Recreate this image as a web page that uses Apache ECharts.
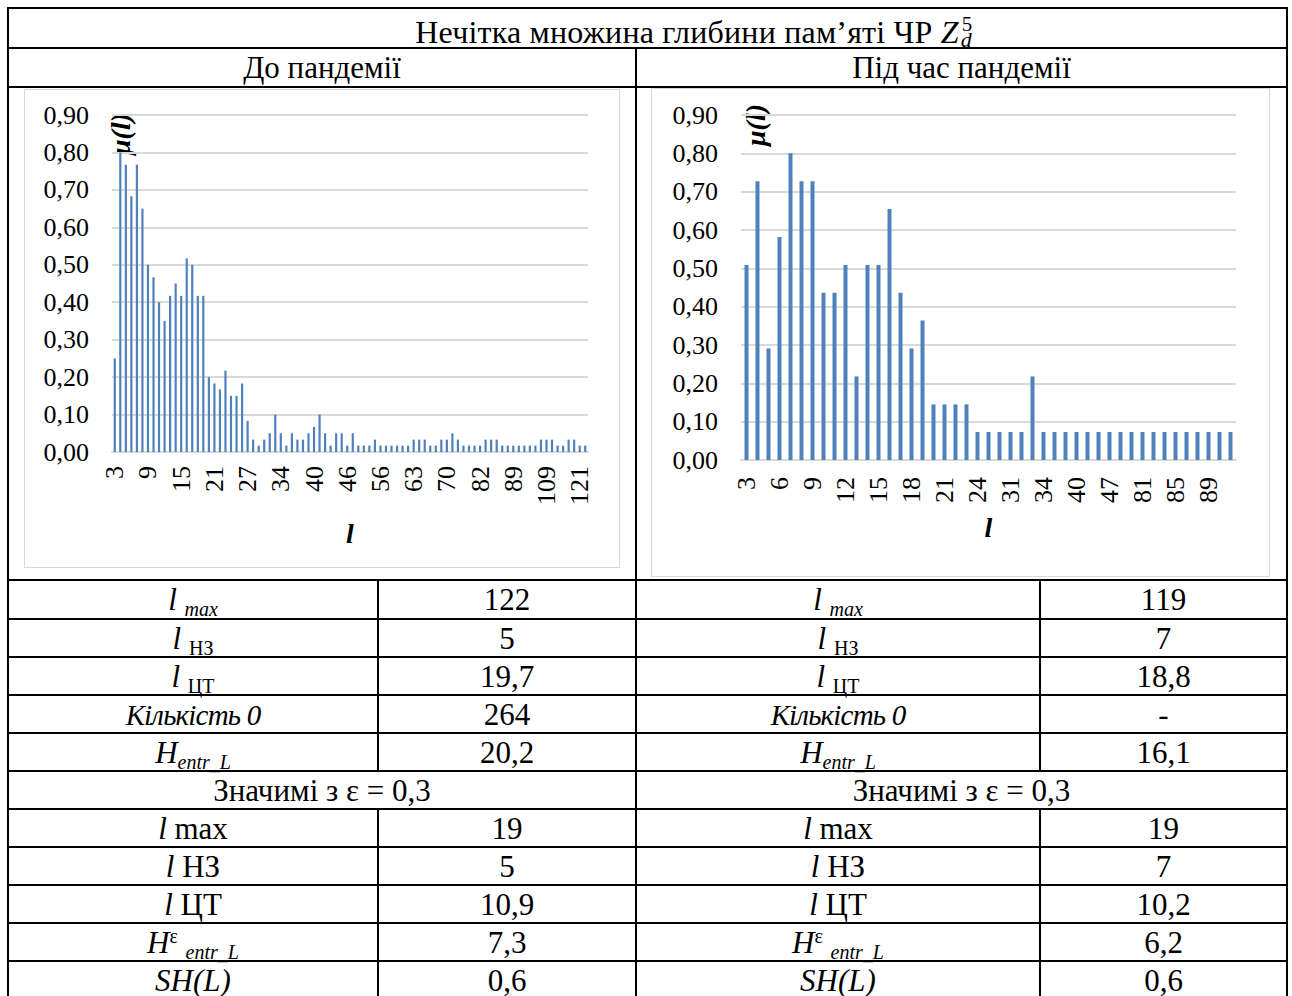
<!DOCTYPE html>
<html>
<head>
<meta charset="utf-8">
<script src="https://cdn.jsdelivr.net/npm/echarts/dist/echarts.min.js"></script>
<style>
  html, body { margin: 0; padding: 0; background: #fff; }
  #page { position: relative; width: 1292px; height: 996px; overflow: hidden;
          font-family: "Liberation Serif", "Times New Roman", serif; color: #000; }
  .hl { position: absolute; height: 2px; background: #000; }
  .vl { position: absolute; width: 2px; background: #000; }
  .cell { position: absolute; display: flex; align-items: center; justify-content: center;
          font-size: 31px; line-height: 1; white-space: nowrap; }
  .title { font-size: 32px; letter-spacing: 0.2px; }
  .narrow { font-size: 29px; letter-spacing: -0.8px; }
  .sub { font-size: 20px; position: relative; top: 6px; }
  .sup { font-size: 20px; position: relative; top: -10px; }
  .ss { display: inline-block; position: relative; width: 16px; height: 1em; }
  .ss .a { position: absolute; left: 3px; top: 3px; font-size: 21px; }
  .ss .b { position: absolute; left: 2px; top: 18px; font-size: 22px; font-style: italic; }
  .chart { position: absolute; border: 1px solid #d9d9d9; box-sizing: border-box; background: #fff; }
</style>
</head>
<body>
<div id="page">
  <div id="table"></div>
  <div id="chartBefore" class="chart" style="left:24px; top:89px; width:596px; height:479px;"></div>
  <div id="chartDuring" class="chart" style="left:651px; top:88px; width:619px; height:489px;"></div>
</div>
<script>
// Memory depth l and membership μ(l) before the pandemic
const beforeCats = [
  3,4,5,6,7,8,9,10,11,12,13,14,15,16,17,18,19,20,21,22,23,24,25,26,27,
  28,29,30,31,32,
  34,35,36,37,38,39,40,
  41,42,43,44,45,46,
  47,48,50,52,54,
  56,57,58,59,60,62,
  63,64,65,66,67,68,
  70,71,73,75,77,79,
  82,83,84,85,86,88,
  89,92,96,100,103,106,
  109,110,112,114,116,118,
  121,122
];
const beforeVals = [
  0.25,0.8,0.767,0.683,0.767,0.65,0.5,0.467,0.4,0.35,
  0.417,0.45,0.417,0.517,0.5,0.417,0.417,0.2,0.183,0.167,
  0.217,0.15,0.15,0.183,0.083,0.033,0.017,0.033,0.05,0.1,
  0.05,0.017,0.05,0.033,0.033,0.05,0.067,0.1,0.05,0.017,
  0.05,0.05,0.017,0.05,0.017,0.017,0.017,0.033,0.017,0.017,
  0.017,0.017,0.017,0.017,0.033,0.033,0.033,0.017,0.017,0.033,
  0.033,0.05,0.033,0.017,0.017,0.017,0.017,0.033,0.033,0.033,
  0.017,0.017,0.017,0.017,0.017,0.017,0.017,0.033,0.033,0.033,
  0.017,0.017,0.033,0.033,0.017,0.017
];

// Memory depth l and membership μ(l) during the pandemic
const duringCats = [
  3,4,5,6,7,8,9,10,11,12,13,14,15,16,17,18,19,20,21,22,23,24,
  26,28,31,32,33,34,36,38,40,43,45,47,55,70,81,82,84,85,86,88,89,100,119
];
const duringVals = [
  0.509,0.727,0.291,0.582,0.8,0.727,0.727,0.436,0.436,0.509,
  0.218,0.509,0.509,0.655,0.436,0.291,0.364,0.145,0.145,0.145,
  0.145,0.073,0.073,0.073,0.073,0.073,0.218,0.073,0.073,0.073,
  0.073,0.073,0.073,0.073,0.073,0.073,0.073,0.073,0.073,0.073,
  0.073,0.073,0.073,0.073,0.073
];

// Summary statistics for the two periods
const statLabels = [
  '<i>l</i>&nbsp;<span class="sub"><i>max</i></span>',
  '<i>l</i>&nbsp;<span class="sub">НЗ</span>',
  '<i>l</i>&nbsp;<span class="sub">ЦТ</span>',
  '<i class="narrow">Кількість 0</i>',
  '<i>H<span class="sub">entr_L</span></i>'
];
const statsBefore = ['122', '5', '19,7', '264', '20,2'];
const statsDuring = ['119', '7', '18,8', '-', '16,1'];
const sigHeader = 'Значимі з ε = 0,3';
const sigLabels = [
  '<i>l</i>&nbsp;max',
  '<i>l</i>&nbsp;НЗ',
  '<i>l</i>&nbsp;ЦТ',
  '<i>H</i><span class="sup">ε</span>&nbsp;<span class="sub"><i>entr_L</i></span>',
  '<i>SH(L)</i>'
];
const sigBefore = ['19', '5', '10,9', '7,3', '0,6'];
const sigDuring = ['19', '7', '10,2', '6,2', '0,6'];

const titleHtml = '<span class="title">Нечітка множина глибини пам’яті ЧР <i>Z</i><span class="ss"><span class="a">5</span><span class="b">d</span></span></span>';
const periodNames = ['До пандемії', 'Під час пандемії'];

// Table grid: column edges and row edges
const colX = [8, 378, 636, 1040, 1287];
const rowY = [8, 48, 87, 580, 619, 657, 695, 733, 771, 809, 847, 885, 923, 961, 999];

(function buildTable() {
  const host = document.getElementById('table');
  let html = '';
  const cell = (x0, x1, y0, y1, content, extra) =>
    '<div class="cell" style="left:' + x0 + 'px;width:' + (x1 - x0) + 'px;top:' + y0 + 'px;height:' + (y1 - y0) + 'px;' + (extra || '') + '"><span>' + content + '</span></div>';
  const hl = (x0, x1, y) => '<div class="hl" style="left:' + (x0 - 1) + 'px;width:' + (x1 - x0 + 2) + 'px;top:' + (y - 1) + 'px"></div>';
  const vl = (x, y0, y1) => '<div class="vl" style="left:' + (x - 1) + 'px;top:' + (y0 - 1) + 'px;height:' + (y1 - y0 + 2) + 'px"></div>';

  // horizontal rules
  rowY.forEach(y => { html += hl(colX[0], colX[4], y); });
  // vertical rules
  html += vl(colX[0], rowY[0], 1000);
  html += vl(colX[4], rowY[0], 1000);
  html += vl(colX[2], rowY[1], 1000);
  html += vl(colX[1], rowY[3], rowY[8]);
  html += vl(colX[3], rowY[3], rowY[8]);
  html += vl(colX[1], rowY[9], 1000);
  html += vl(colX[3], rowY[9], 1000);

  // title and period headers
  html += cell(403, 987, rowY[0], rowY[1], titleHtml, 'padding-top:2px;box-sizing:border-box;');
  html += cell(colX[0], colX[2], rowY[1], rowY[2], periodNames[0]);
  html += cell(colX[2], colX[4], rowY[1], rowY[2], periodNames[1]);

  for (let i = 0; i < statLabels.length; i++) {
    const y0 = rowY[3 + i], y1 = rowY[4 + i];
    html += cell(colX[0], colX[1], y0, y1, statLabels[i]);
    html += cell(colX[1], colX[2], y0, y1, statsBefore[i]);
    html += cell(colX[2], colX[3], y0, y1, statLabels[i]);
    html += cell(colX[3], colX[4], y0, y1, statsDuring[i]);
  }
  html += cell(colX[0], colX[2], rowY[8], rowY[9], sigHeader);
  html += cell(colX[2], colX[4], rowY[8], rowY[9], sigHeader);
  for (let i = 0; i < sigLabels.length; i++) {
    const y0 = rowY[9 + i], y1 = rowY[10 + i];
    html += cell(colX[0], colX[1], y0, y1, sigLabels[i]);
    html += cell(colX[1], colX[2], y0, y1, sigBefore[i]);
    html += cell(colX[2], colX[3], y0, y1, sigLabels[i]);
    html += cell(colX[3], colX[4], y0, y1, sigDuring[i]);
  }
  host.innerHTML = html;
})();

const SERIF = '"Liberation Serif", "Times New Roman", serif';
const BAR_COLOR = '#4f81bd';
const GRID_COLOR = '#d9d9d9';

function makeOption(cats, vals, cfg) {
  return {
    animation: false,
    grid: { left: cfg.left, right: cfg.right, top: cfg.top, bottom: cfg.bottom, containLabel: false },
    xAxis: {
      type: 'category',
      data: cats.map(String),
      name: 'l',
      nameLocation: 'middle',
      nameGap: cfg.nameGap,
      nameTextStyle: { fontFamily: SERIF, fontSize: 28, fontStyle: 'italic', fontWeight: 'bold', color: '#000' },
      axisLine: { lineStyle: { color: GRID_COLOR, width: 2 } },
      axisTick: { show: false },
      axisLabel: {
        interval: cfg.labelInterval, rotate: 90, margin: cfg.labelMargin,
        fontFamily: SERIF, fontSize: 26, color: '#000'
      }
    },
    yAxis: {
      type: 'value', min: 0, max: 0.9, interval: 0.1,
      axisLine: { show: false }, axisTick: { show: false },
      splitLine: { lineStyle: { color: GRID_COLOR, width: 2 } },
      axisLabel: {
        margin: 23, fontFamily: SERIF, fontSize: 26, color: '#000',
        formatter: v => v.toFixed(2).replace('.', ',')
      }
    },
    graphic: [{
      type: 'text', x: cfg.muX, y: cfg.muY, rotation: Math.PI / 2,
      style: {
        text: 'μ(l)', font: 'italic bold 28px ' + SERIF, fill: '#000',
        textAlign: 'center', textVerticalAlign: 'middle'
      }
    }],
    series: [{
      type: 'bar', data: vals, barWidth: cfg.barWidth,
      itemStyle: { color: BAR_COLOR }, silent: true
    }]
  };
}

const chartBefore = echarts.init(document.getElementById('chartBefore'), null, { renderer: 'svg' });
chartBefore.setOption(makeOption(beforeCats, beforeVals, {
  left: 87, right: 31, top: 25, bottom: 115, nameGap: 67,
  labelInterval: 5, labelMargin: 14, barWidth: 2.2, muX: 95, muY: 44
}));

const chartDuring = echarts.init(document.getElementById('chartDuring'), null, { renderer: 'svg' });
chartDuring.setOption(makeOption(duringCats, duringVals, {
  left: 89, right: 33, top: 26, bottom: 116, nameGap: 53,
  labelInterval: 2, labelMargin: 17, barWidth: 4, muX: 103, muY: 36
}));
</script>
</body>
</html>
